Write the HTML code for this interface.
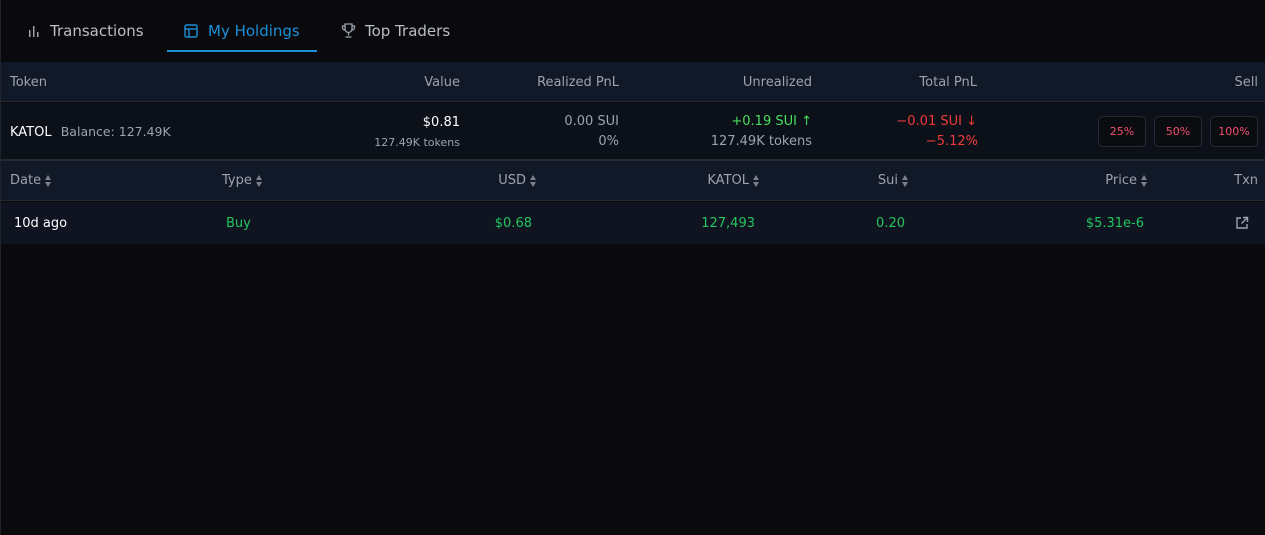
<!DOCTYPE html>
<html><head><meta charset="utf-8">
<style>
*{margin:0;padding:0;box-sizing:border-box}
body{width:1265px;height:535px;background:#0a0a0c;font-family:"DejaVu Sans","Liberation Sans",sans-serif;overflow:hidden;position:relative;color:#9ca3af}
.abs{position:absolute;white-space:nowrap}
.r{text-align:right}
.tab{font-size:15px;top:22px;color:#b9bec7}
.h{font-size:13px;color:#9ca3af}
.btn{position:absolute;top:116px;width:48px;height:31px;border:1px solid #262a33;border-radius:5px;background:#0b0c10;color:#f0506e;font-size:11px;text-align:center;line-height:29px}
.sort{display:inline-block;vertical-align:middle;margin-left:4px;width:7px;height:12px;position:relative}
.sort:before{content:"";position:absolute;left:0;top:0;border-left:3.5px solid transparent;border-right:3.5px solid transparent;border-bottom:5px solid #7b818c}
.sort:after{content:"";position:absolute;left:0;top:7px;border-left:3.5px solid transparent;border-right:3.5px solid transparent;border-top:5px solid #7b818c}
</style></head><body>
<div class="abs" style="left:0;top:0;width:1px;height:535px;background:#1f232b"></div>

<div class="abs tab" style="left:27px">
<svg width="14" height="12" style="vertical-align:-1px;margin-right:9px"><rect x="2" y="5" width="1.5" height="7" fill="#9ca3af"/><rect x="6" y="1" width="1.5" height="11" fill="#9ca3af"/><rect x="10" y="7" width="1.5" height="5" fill="#9ca3af"/></svg>Transactions</div>
<div class="abs tab" style="left:184px;color:#1b8fd8">
<svg width="14" height="14" style="vertical-align:-2px;margin-right:10px"><rect x="1" y="1" width="12" height="12" rx="1.5" fill="none" stroke="#1b8fd8" stroke-width="1.4"/><line x1="1" y1="5" x2="13" y2="5" stroke="#1b8fd8" stroke-width="1.4"/><line x1="5" y1="5" x2="5" y2="13" stroke="#1b8fd8" stroke-width="1.4"/></svg>My Holdings</div>
<div class="abs" style="left:167px;top:50px;width:150px;height:2px;background:#1b8fd8"></div>
<div class="abs tab" style="left:341px">
<svg width="15" height="15" style="vertical-align:-2px;margin-right:9px"><path d="M4 1h7v5a3.5 3.5 0 0 1-7 0z M4 3H1.5v1.5A2.5 2.5 0 0 0 4 7 M11 3h2.5v1.5A2.5 2.5 0 0 1 11 7 M7.5 9.5v3 M4.5 14h6" fill="none" stroke="#9ca3af" stroke-width="1.3"/></svg>Top Traders</div>

<div class="abs" style="left:1px;top:62px;width:1264px;height:40px;background:#111827;border-bottom:1px solid #252a33"></div>
<div class="abs h" style="left:10px;top:75px">Token</div>
<div class="abs h r" style="right:805px;top:75px">Value</div>
<div class="abs h r" style="right:646px;top:75px">Realized PnL</div>
<div class="abs h r" style="right:453px;top:75px">Unrealized</div>
<div class="abs h r" style="right:288px;top:75px">Total PnL</div>
<div class="abs h r" style="right:7px;top:75px">Sell</div>

<div class="abs" style="left:1px;top:103px;width:1264px;height:56px;background:#0c1018"></div>
<div class="abs" style="left:10px;top:124px;font-size:13px;color:#fff">KATOL <span style="color:#9ca3af;font-size:12.5px;margin-left:5px">Balance: 127.49K</span></div>
<div class="abs r" style="right:805px;top:115px;font-size:13px;color:#fff">$0.81</div>
<div class="abs r" style="right:805px;top:136px;font-size:11px;color:#9ca3af">127.49K tokens</div>
<div class="abs r" style="right:646px;top:114px;font-size:13px">0.00 SUI</div>
<div class="abs r" style="right:646px;top:134px;font-size:13px">0%</div>
<div class="abs r" style="right:453px;top:114px;font-size:13px;color:#4ade60">+0.19 SUI ↑</div>
<div class="abs r" style="right:453px;top:134px;font-size:13px">127.49K tokens</div>
<div class="abs r" style="right:288px;top:114px;font-size:13px;color:#ef3b3b">−0.01 SUI ↓</div>
<div class="abs r" style="right:287px;top:134px;font-size:13px;color:#ef3b3b">−5.12%</div>
<div class="btn" style="left:1098px">25%</div>
<div class="btn" style="left:1154px">50%</div>
<div class="btn" style="left:1210px">100%</div>

<div class="abs" style="left:1px;top:159px;width:1264px;height:42px;background:#111827;border-top:2px solid #262a31;border-bottom:1px solid #252a33"></div>
<div class="abs h" style="left:10px;top:173px">Date<span class="sort"></span></div>
<div class="abs h" style="left:222px;top:173px">Type<span class="sort"></span></div>
<div class="abs h r" style="right:728px;top:173px">USD<span class="sort"></span></div>
<div class="abs h r" style="right:505px;top:173px">KATOL<span class="sort"></span></div>
<div class="abs h r" style="right:356px;top:173px">Sui<span class="sort"></span></div>
<div class="abs h r" style="right:117px;top:173px">Price<span class="sort"></span></div>
<div class="abs h r" style="right:7px;top:173px">Txn</div>

<div class="abs" style="left:1px;top:202px;width:1264px;height:42px;background:#0f1420"></div>
<div class="abs" style="left:14px;top:216px;font-size:13px;color:#fff">10d ago</div>
<div class="abs" style="left:226px;top:216px;font-size:13px;color:#22c55e">Buy</div>
<div class="abs r" style="right:733px;top:216px;font-size:13px;color:#22c55e">$0.68</div>
<div class="abs r" style="right:510px;top:216px;font-size:13px;color:#22c55e">127,493</div>
<div class="abs r" style="right:360px;top:216px;font-size:13px;color:#22c55e">0.20</div>
<div class="abs r" style="right:121px;top:216px;font-size:13px;color:#22c55e">$5.31e-6</div>
<svg class="abs" width="14" height="14" style="left:1235px;top:216px"><path d="M6 2H2v10h10V8 M8 1.5h4.5V6 M12.5 1.5L6.5 7.5" fill="none" stroke="#9ca3af" stroke-width="1.4"/></svg>
</body></html>
